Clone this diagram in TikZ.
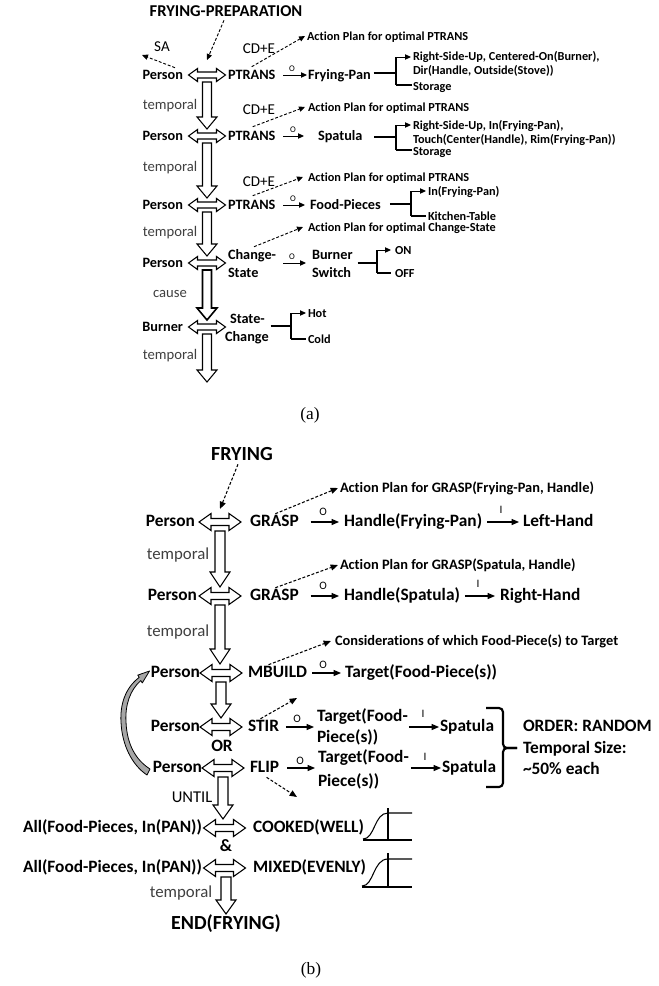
\documentclass[tikz,border=0pt]{standalone}
\usepackage{fontspec}
\setmainfont{Carlito}[Ligatures=CommonOff]
\newfontfamily\capfont{Liberation Serif}
\usetikzlibrary{arrows.meta,calc}
\tikzset{
  txt/.style={inner sep=0pt, outer sep=0pt, text height=0.644em, text depth=0pt},
  ba/.style={txt, font=\bfseries\fontsize{10.7}{13}\selectfont},
  sa/.style={txt, font=\bfseries\fontsize{9.2}{11}\selectfont},
  la/.style={txt, font=\fontsize{11}{13}\selectfont, text=black!75},
  ka/.style={txt, font=\fontsize{11.3}{13}\selectfont, text=black},
  oa/.style={txt, font=\fontsize{6.5}{8}\selectfont},
  bb/.style={txt, font=\bfseries\fontsize{13}{16}\selectfont},
  sb/.style={txt, font=\bfseries\fontsize{10.8}{13}\selectfont},
  lb/.style={txt, font=\fontsize{12.6}{15}\selectfont, text=black!75},
  kb/.style={txt, font=\fontsize{12.4}{15}\selectfont, text=black},
  ob/.style={txt, font=\fontsize{8.5}{10}\selectfont},
  tta/.style={txt, font=\bfseries\fontsize{12.4}{14}\selectfont},
  ttb/.style={txt, font=\bfseries\fontsize{15}{18}\selectfont},
  capt/.style={inner sep=0pt, font=\capfont\fontsize{13}{15}\selectfont},
  fat/.style={draw=black, line width=0.8pt, fill=white, line join=miter},
  arA/.style={line width=0.7pt, -{Triangle[length=4.5pt,width=4pt]}},
  arB/.style={line width=0.8pt, -{Triangle[length=5.5pt,width=4.5pt]}},
  dsh/.style={dash pattern=on 2.2pt off 1.4pt},
  fork/.style={line width=0.8pt},
}
% horizontal double arrow: center, half length, head length, head half height, shaft half height
\newcommand\dblarr[5]{\draw[fat] ($(#1)+(-#2,0)$) -- ($(#1)+(-#2+#3,-#4)$) -- ($(#1)+(-#2+#3,-#5)$) -- ($(#1)+(#2-#3,-#5)$) -- ($(#1)+(#2-#3,-#4)$) -- ($(#1)+(#2,0)$) -- ($(#1)+(#2-#3,#4)$) -- ($(#1)+(#2-#3,#5)$) -- ($(#1)+(-#2+#3,#5)$) -- ($(#1)+(-#2+#3,#4)$) -- cycle;}
% vertical open arrow: top, tip, shaft half, head half, head length
\newcommand\vfatarr[5]{\draw[fat] ($(#1)+(-#3,0)$) -- ($(#2)+(-#3,-#5)$) -- ($(#2)+(-#4,-#5)$) -- (#2) -- ($(#2)+(#4,-#5)$) -- ($(#2)+(#3,-#5)$) -- ($(#1)+(#3,0)$) -- cycle;}
\begin{document}
\begin{tikzpicture}[x=0.75pt,y=-0.75pt]
\path[use as bounding box, fill=white] (0,0) rectangle (659,986);

% ================= (a) =================
\node[tta] (fp) at (226,12) {FRYING-PREPARATION};
% row 1
\node[ba, anchor=east] (pa1) at (183,75) {Person};
\coordinate (ha1) at (207,75);
\node[ba, anchor=west] (pt1) at (228,75) {PTRANS};
\node[ba, anchor=west] (fpan) at (308,75) {Frying-Pan};
\node[ka] (sa) at (162,47) {SA};
\coordinate (saT) at (142,55);
\node[ka] (cde1) at (259,49) {CD+E};
\node[sa, anchor=west] (ap1) at (307,36) {Action Plan for optimal PTRANS};
\node[oa] (o1) at (292,67) {O};
\node[sa, anchor=west] (r1a) at (413,56) {Right-Side-Up, Centered-On(Burner),};
\node[sa, anchor=west] (r1b) at (413,70) {Dir(Handle, Outside(Stove))};
\node[sa, anchor=west] (r1c) at (413,86) {Storage};
\coordinate (f1t) at (396,57); \coordinate (f1m) at (396,73); \coordinate (f1b) at (396,85);
% row 2
\node[ba, anchor=east] (pa2) at (183,136) {Person};
\coordinate (ha2) at (207,136);
\node[ba, anchor=west] (pt2) at (228,136) {PTRANS};
\node[ba, anchor=west] (spat) at (318,136) {Spatula};
\node[ka] (cde2) at (259,110) {CD+E};
\node[sa, anchor=west] (ap2) at (308,107) {Action Plan for optimal PTRANS};
\node[oa] (o2) at (293,128) {O};
\node[sa, anchor=west] (r2a) at (413,125) {Right-Side-Up, In(Frying-Pan),};
\node[sa, anchor=west] (r2b) at (413,139) {Touch(Center(Handle), Rim(Frying-Pan))};
\node[sa, anchor=west] (r2c) at (413,151) {Storage};
\coordinate (f2t) at (396,125); \coordinate (f2m) at (396,137); \coordinate (f2b) at (396,150);
% row 3
\node[ba, anchor=east] (pa3) at (183,205) {Person};
\coordinate (ha3) at (207,205);
\node[ba, anchor=west] (pt3) at (228,205) {PTRANS};
\node[ba, anchor=west] (fpcs) at (310,205) {Food-Pieces};
\node[ka] (cde3) at (259,182) {CD+E};
\node[sa, anchor=west] (ap3) at (308,177) {Action Plan for optimal PTRANS};
\node[oa] (o3) at (293,197) {O};
\node[sa, anchor=west] (r3a) at (428,191) {In(Frying-Pan)};
\node[sa, anchor=west] (r3b) at (428,216) {Kitchen-Table};
\coordinate (f3t) at (411,191); \coordinate (f3m) at (411,204); \coordinate (f3b) at (411,216);
% row 4
\node[ba, anchor=east] (pa4) at (183,263) {Person};
\coordinate (ha4) at (207,263);
\node[ba, anchor=west] (cs1) at (228,255) {Change-};
\node[ba, anchor=west] (cs2) at (228,273) {State};
\node[ba, anchor=west] (bs1) at (312,255) {Burner};
\node[ba, anchor=west] (bs2) at (312,273) {Switch};
\node[sa, anchor=west] (ap4) at (308,227) {Action Plan for optimal Change-State};
\node[oa] (o4) at (292,255) {O};
\node[sa, anchor=west] (on) at (395,250) {ON};
\node[sa, anchor=west] (off) at (395,273) {OFF};
\coordinate (f4t) at (377,250); \coordinate (f4m) at (377,263); \coordinate (f4b) at (377,273);
% row 5
\node[ba, anchor=east] (bu) at (183,327) {Burner};
\coordinate (ha5) at (207,327);
\node[ba, anchor=west] (sc1) at (230,319) {State-};
\node[ba, anchor=west] (sc2) at (225,337) {Change};
\node[sa, anchor=west] (hot) at (308,313) {Hot};
\node[sa, anchor=west] (cold) at (308,339) {Cold};
\coordinate (f5t) at (291,313); \coordinate (f5m) at (291,326); \coordinate (f5b) at (291,339);
% labels between rows
\node[la] (ta1) at (170,105) {temporal};
\node[la] (ta2) at (170,167) {temporal};
\node[la] (ta3) at (170,232) {temporal};
\node[la] (cause) at (170,293) {cause};
\node[la] (ta5) at (170,355) {temporal};
% vertical arrow end points
\coordinate (va1t) at (207,82);  \coordinate (va1b) at (207,129);
\coordinate (va2t) at (207,143); \coordinate (va2b) at (207,198);
\coordinate (va3t) at (207,212); \coordinate (va3b) at (207,256);
\coordinate (va4t) at (207,270); \coordinate (va4b) at (207,320);
\coordinate (va5t) at (207,334); \coordinate (va5b) at (207,382);
\vfatarr{va1t}{va1b}{4.5}{10}{12}
\vfatarr{va2t}{va2b}{4.5}{10}{12}
\vfatarr{va3t}{va3b}{4.5}{10}{12}
\begingroup\tikzset{fat/.append style={line width=1.2pt}}
\vfatarr{va4t}{va4b}{4.5}{10}{12}
\endgroup
\vfatarr{va5t}{va5b}{4.5}{10}{12}
\dblarr{ha1}{18.5}{9}{6.5}{3}
\dblarr{ha2}{18.5}{9}{6.5}{3}
\dblarr{ha3}{18.5}{9}{6.5}{3}
\dblarr{ha4}{18.5}{9}{6.5}{3}
\dblarr{ha5}{18.5}{9}{6.5}{3}
% dashed arrows (a)
\draw[arA, dsh] ($(fp.south)+(-2,4)$) -- ($(ha1)+(0,-15)$);
\draw[arA, dsh] ($(pa1.north east)+(-8,-3)$) -- (saT);
\draw[arA, dsh] ($(pt1.north)+(0,-4)$) -- ($(ap1.west)+(-2,0)$);
\draw[arA, dsh] ($(pt2.north)+(1,-5)$) -- ($(ap2.west)+(-3,0)$);
\draw[arA, dsh] ($(pt3.north)+(1,-5)$) -- ($(ap3.west)+(-5,0)$);
\draw[arA, dsh] ($(cs1.north)+(2,-4)$) -- ($(ap4.west)+(-5,0)$);
% O arrows (a)
\draw[arA] ($(pt1.east)+(8,0)$) -- ($(fpan.west)+(-1,0)$);
\draw[arA] ($(pt2.east)+(8,0)$) -- ($(spat.west)+(-14,0)$);
\draw[arA] ($(pt3.east)+(8,0)$) -- ($(fpcs.west)+(-5,0)$);
\draw[arA] ($(cs1.east)+(7,8)$) -- ($(bs1.west)+(-6,8)$);
% forks (a)
\draw[fork] ($(fpan.east)+(3,-2)$) -- (f1m);
\draw[fork] (f1t) -- (f1b);
\draw[fork, arA] (f1t) -- ($(f1t -| r1a.west)+(-2,0)$);
\draw[fork] (f1b) -- ($(f1b -| r1c.west)+(-1,0)$);
\draw[fork] ($(spat.east)+(12,1)$) -- (f2m);
\draw[fork] (f2t) -- (f2b);
\draw[fork, arA] (f2t) -- ($(f2t -| r2a.west)+(-2,0)$);
\draw[fork] (f2b) -- ($(f2b -| r2c.west)+(-1,0)$);
\draw[fork] ($(fpcs.east)+(9,-1)$) -- (f3m);
\draw[fork] (f3t) -- (f3b);
\draw[fork, arA] (f3t) -- ($(f3t -| r3a.west)+(-2,0)$);
\draw[fork] (f3b) -- ($(f3b -| r3b.west)+(-2,0)$);
\draw[fork] ($(bs1.east)+(5,8)$) -- (f4m);
\draw[fork] (f4t) -- (f4b);
\draw[fork, arA] (f4t) -- ($(f4t -| on.west)+(-4,0)$);
\draw[fork] (f4b) -- ($(f4b -| off.west)+(-4,0)$);
\draw[fork] ($(sc2.east)+(2,-11)$) -- (f5m);
\draw[fork] (f5t) -- (f5b);
\draw[fork, arA] (f5t) -- ($(f5t -| hot.west)+(-2,0)$);
\draw[fork] (f5b) -- ($(f5b -| cold.west)+(-2,0)$);
\node[capt] (capa) at (310,415) {(a)};

% ================= (b) =================
\node[ttb] (fry) at (242,456) {FRYING};
% row b1
\node[bb, anchor=east] (pb1) at (195,522) {Person};
\coordinate (hb1) at (220,522);
\node[bb, anchor=west] (gr1) at (250,522) {GRASP};
\node[bb, anchor=west] (hfp) at (344,522) {Handle(Frying-Pan)};
\node[bb, anchor=west] (lh) at (523,522) {Left-Hand};
\node[sb, anchor=west] (apb1) at (340,488) {Action Plan for GRASP(Frying-Pan, Handle)};
\node[ob] (ob1) at (323,511) {O};
\node[ob] (ib1) at (501,509) {I};
% row b2
\node[bb, anchor=east] (pb2) at (197,596) {Person};
\coordinate (hb2) at (220,596);
\node[bb, anchor=west] (gr2) at (250,596) {GRASP};
\node[bb, anchor=west] (hsp) at (344,596) {Handle(Spatula)};
\node[bb, anchor=west] (rh) at (500,596) {Right-Hand};
\node[sb, anchor=west] (apb2) at (340,565) {Action Plan for GRASP(Spatula, Handle)};
\node[ob] (ob2) at (323,585) {O};
\node[ob] (ib2) at (478,583) {I};
% row b3
\node[bb, anchor=east] (pb3) at (200,673) {Person};
\coordinate (hb3) at (221,673);
\node[bb, anchor=west] (mb) at (248,673) {MBUILD};
\node[bb, anchor=west] (tg3) at (345,673) {Target(Food-Piece(s))};
\node[sb, anchor=west] (con) at (335,641) {Considerations of which Food-Piece(s) to Target};
\node[ob] (ob3) at (323,664) {O};
% row b4
\node[bb, anchor=east] (pb4) at (200,727) {Person};
\coordinate (hb4) at (221,727);
\node[bb, anchor=west] (stir) at (248,727) {STIR};
\node[bb, anchor=west] (tg4a) at (317,717) {Target(Food-};
\node[bb, anchor=west] (tg4b) at (317,738) {Piece(s))};
\node[bb, anchor=west] (sp4) at (440,727) {Spatula};
\node[ob] (ob4) at (297,718) {O};
\node[ob] (ib4) at (423,713) {I};
\coordinate (stirT) at (297,698);
\node[bb] (or) at (222,747) {OR};
% row b5
\node[bb, anchor=east] (pb5) at (202,768) {Person};
\coordinate (hb5) at (223,768);
\node[bb, anchor=west] (flip) at (250,768) {FLIP};
\node[bb, anchor=west] (tg5a) at (318,758) {Target(Food-};
\node[bb, anchor=west] (tg5b) at (318,782) {Piece(s))};
\node[bb, anchor=west] (sp5) at (442,768) {Spatula};
\node[ob] (ob5) at (300,760) {O};
\node[ob] (ib5) at (425,756) {I};
\coordinate (flipT) at (297,797);
% order group
\node[bb, anchor=west] (ord1) at (523,727) {ORDER: RANDOM};
\node[bb, anchor=west] (ord2) at (523,749) {Temporal Size:};
\node[bb, anchor=west] (ord3) at (523,770) {\char`\~50\% each};
% cooked / mixed
\node[bb, anchor=east] (all1) at (202,828) {All(Food-Pieces, In(PAN))};
\coordinate (hb6) at (224.5,828);
\node[bb, anchor=west] (ck) at (253,828) {COOKED(WELL)};
\node[bb] (amp) at (226,847) {\&};
\node[bb, anchor=east] (all2) at (202,868) {All(Food-Pieces, In(PAN))};
\coordinate (hb7) at (224.5,868);
\node[bb, anchor=west] (mx) at (253,868) {MIXED(EVENLY)};
\node[ttb] (endf) at (226,925) {END(FRYING)};
% labels (b)
\node[lb] (tb1) at (178,555) {temporal};
\node[lb] (tb2) at (178,632) {temporal};
\node[kb] (until) at (192,798) {UNTIL};
\node[lb] (tb5) at (181,893) {temporal};
% vertical arrows (b)
\coordinate (vb1t) at (220,531); \coordinate (vb1b) at (220,587);
\coordinate (vb2t) at (220,605); \coordinate (vb2b) at (220,664);
\coordinate (vb3t) at (221,682); \coordinate (vb3b) at (221,718);
\coordinate (vb4t) at (223,777); \coordinate (vb4b) at (223,819);
\coordinate (vb5t) at (226,877); \coordinate (vb5b) at (226,914);
\vfatarr{vb1t}{vb1b}{5}{10}{15}
\vfatarr{vb2t}{vb2b}{5}{10}{15}
\vfatarr{vb3t}{vb3b}{5}{10}{14}
\vfatarr{vb4t}{vb4b}{5}{10}{14}
\vfatarr{vb5t}{vb5b}{5}{10}{14}
\dblarr{hb1}{21}{12}{8.5}{3.5}
\dblarr{hb2}{21}{12}{8.5}{3.5}
\dblarr{hb3}{21}{12}{8.5}{3.5}
\dblarr{hb4}{21}{12}{8.5}{3.5}
\dblarr{hb5}{21}{12}{8.5}{3.5}
\dblarr{hb6}{21}{12}{8.5}{3.5}
\dblarr{hb7}{21}{12}{8.5}{3.5}
% dashed (b)
\draw[arB, dsh] ($(fry.south)+(-4,4)$) -- ($(hb1)+(0,-13)$);
\draw[arB, dsh] ($(gr1.north)+(1,-4)$) -- ($(apb1.west)+(-2,0)$);
\draw[arB, dsh] ($(gr2.north)+(1,-4)$) -- ($(apb2.west)+(-2,0)$);
\draw[arB, dsh] ($(mb.north)+(-9,-4)$) -- ($(con.west)+(-4,0)$);
\draw[arB, dsh] ($(stir.north)+(-3,-4)$) -- (stirT);
\draw[arB, dsh] ($(flip.south)+(2,5)$) -- (flipT);
% O / I arrows (b)
\draw[arB] ($(gr1.east)+(12,0)$) -- ($(hfp.west)+(-5,0)$);
\draw[arB] ($(hfp.east)+(5,0)$) -- ($(lh.west)+(-4,0)$);
\draw[arB] ($(gr2.east)+(12,0)$) -- ($(hsp.west)+(-5,0)$);
\draw[arB] ($(hsp.east)+(5,0)$) -- ($(rh.west)+(-5,0)$);
\draw[arB] ($(mb.east)+(5,0)$) -- ($(tg3.west)+(-4,0)$);
\draw[arB] ($(stir.east)+(7,0)$) -- ($(stir.east -| tg4a.west)+(-3,0)$);
\draw[arB] ($(tg4a.east |- sp4.west)+(1,0)$) -- ($(sp4.west)+(-1,0)$);
\draw[arB] ($(flip.east)+(8,0)$) -- ($(flip.east -| tg5a.west)+(-3,0)$);
\draw[arB] ($(tg5a.east |- sp5.west)+(2,0)$) -- ($(sp5.west)+(-1,0)$);
% big bracket
\draw[line width=1.6pt, rounded corners=3pt] (486,708) -- (503,708) -- (503,748) -- (517,748);
\draw[line width=1.6pt, rounded corners=3pt] (486,787) -- (503,787) -- (503,748) -- (517,748);
% curved grey arrow from FLIP person to MBUILD person
\draw[line width=0.6pt, fill=black!35, line join=round]
  (139.2,677.4) .. controls (125,688) and (120,705) .. (121,722)
  .. controls (122,745) and (132,765) .. (147,775) -- (150,769)
  .. controls (136,760) and (127,745) .. (126,722)
  .. controls (125,705) and (130,690) .. (140.8,680.6)
  -- (142.3,682.9) -- (149.5,671) -- (137.8,675.1) -- cycle;
% sigmoid plots
\draw[line width=0.8pt] (363,840) -- (412,840);
\draw[line width=0.8pt] (388,808) -- (388,840);
\draw[line width=0.8pt] (363,839) .. controls (375,839) and (374,813) .. (388,813) -- (412,813);
\draw[line width=0.8pt] (362,887) -- (412,887);
\draw[line width=0.8pt] (388,853) -- (388,887);
\draw[line width=0.8pt] (362,886) .. controls (374,886) and (373,859) .. (388,859) -- (412,859);
\node[capt] (capb) at (311,970) {(b)};
\end{tikzpicture}
\end{document}
